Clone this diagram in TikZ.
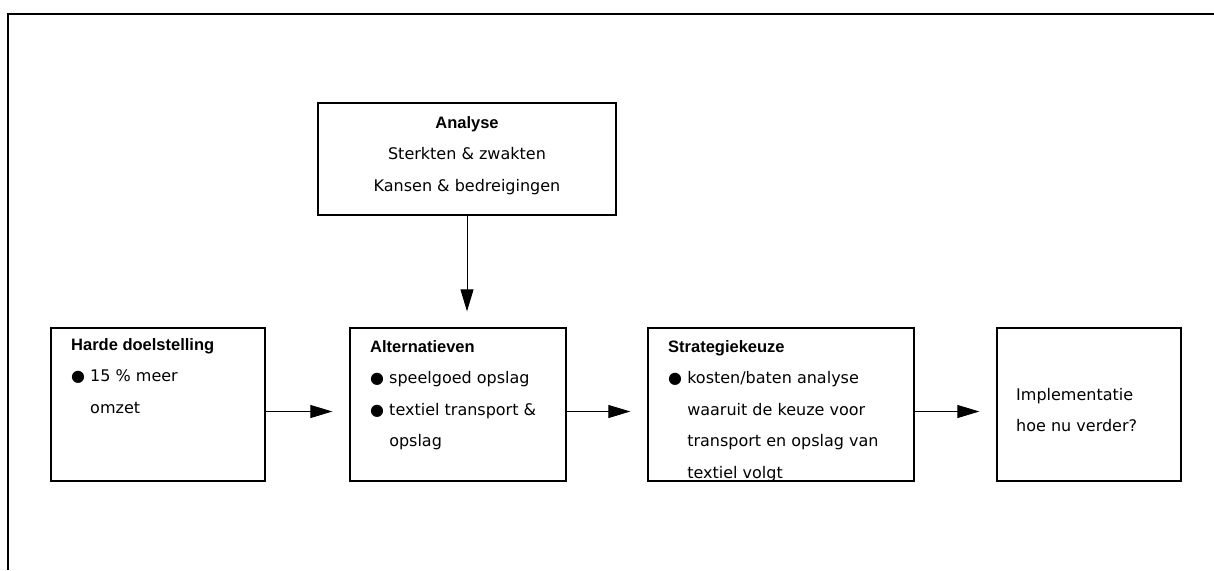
\documentclass[tikz,border=0pt]{standalone}
\usepackage{fontspec}
\setmainfont{DejaVu Sans}
\newfontfamily\headfont{Liberation Sans}
\usetikzlibrary{arrows.meta}
\newcommand\head[1]{{\headfont\bfseries\fontsize{16.5}{31.5}\selectfont #1}}
\newcommand\indentbul{\hphantom{● }}

\begin{document}
\begin{tikzpicture}[x=1pt,y=-1pt,
  box/.style={draw,line width=1.3pt,inner sep=0pt},
  txt/.style={inner sep=0pt,align=left,anchor=north west,font=\fontsize{16}{31.5}\selectfont},
  flow/.style={-{Triangle[length=22pt,width=13pt]},line width=0.9pt,shorten >=17pt}]
\useasboundingbox (0,0) rectangle (1214,570);

% Frame
\draw[line width=2pt] (8,570) -- (8,14) -- (1214,14);

% Boxes
\node[box,minimum width=298pt,minimum height=112pt] (ana) at (467,159) {};
\node[box,minimum width=214pt,minimum height=153pt] (hard) at (158,404.5) {};
\node[box,minimum width=216pt,minimum height=153pt] (alt) at (458,404.5) {};
\node[box,minimum width=266pt,minimum height=153pt] (strat) at (781,404.5) {};
\node[box,minimum width=184pt,minimum height=153pt] (impl) at (1089,404.5) {};

% Texts
\node[txt,anchor=north,align=center] (anatxt) at (467,116) {\head{Analyse}\\Sterkten \& zwakten\\Kansen \& bedreigingen};
\node[txt] (hardtxt) at (71,338) {\head{Harde doelstelling}\\● 15 \% meer\\\indentbul omzet};
\node[txt] (alttxt) at (370,340) {\head{Alternatieven}\\● speelgoed opslag\\● textiel transport \&\\\indentbul opslag};
\node[txt] (strattxt) at (668,340) {\head{Strategiekeuze}\\● kosten/baten analyse\\\indentbul waaruit de keuze voor\\\indentbul transport en opslag van\\\indentbul textiel volgt};
\node[txt] (impltxt) at (1016,388) {Implementatie\\hoe nu verder?};

% Arrows
\draw[flow,shorten >=16pt] (ana.south) -- (ana.south |- alt.north);
\draw[flow] ([yshift=-7pt]hard.east) -- ([yshift=-7pt]alt.west);
\draw[flow] ([yshift=-7pt]alt.east) -- ([yshift=-7pt]strat.west);
\draw[flow] ([yshift=-7pt]strat.east) -- ([yshift=-7pt]impl.west);
\end{tikzpicture}
\end{document}
